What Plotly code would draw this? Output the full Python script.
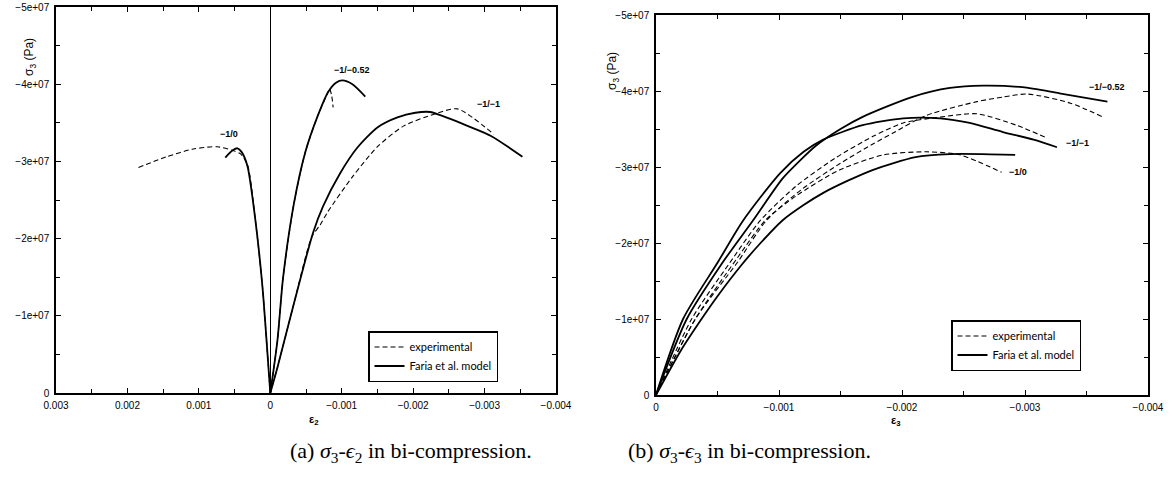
import plotly.graph_objects as go

# ---------------- data (strain, stress in 1e7 Pa compressive magnitude) ----------------
# Panel (a): sigma3 vs eps2
a_exp_10_e = [0, 0.00004, 0.00011, 0.00021, 0.00032, 0.00042, 0.00052, 0.00074, 0.00108, 0.00145, 0.00185]
a_exp_10_s = [0, 0.52, 1.38, 2.25, 2.96, 3.10, 3.14, 3.19, 3.16, 3.06, 2.92]
a_mod_10_e = [0, 0.00004, 0.00011, 0.00021, 0.00032, 0.00040, 0.00046, 0.00053, 0.00063]
a_mod_10_s = [0, 0.52, 1.38, 2.25, 2.94, 3.12, 3.17, 3.14, 3.05]

a_exp_052_e = [0, -0.0001, -0.00018, -0.00033, -0.00049, -0.00066, -0.00080, -0.00083, -0.00086, -0.00088]
a_exp_052_s = [0, 0.68, 1.50, 2.45, 3.12, 3.58, 3.88, 3.94, 3.85, 3.70]
a_mod_052_e = [0, -0.0001, -0.00018, -0.00033, -0.00049, -0.00066, -0.00081, -0.00092, -0.00101, -0.00115, -0.00133]
a_mod_052_s = [0, 0.68, 1.50, 2.45, 3.12, 3.58, 3.90, 4.02, 4.05, 4.00, 3.84]

a_exp_11_e = [0, -0.0001, -0.00032, -0.00058, -0.0007, -0.0008, -0.00115, -0.0015, -0.00187, -0.00229, -0.00262, -0.00313]
a_exp_11_s = [0, 0.33, 1.12, 2.02, 2.18, 2.34, 2.80, 3.19, 3.46, 3.61, 3.68, 3.35]
a_mod_11_e = [0, -0.0001, -0.00032, -0.0006, -0.00074, -0.00098, -0.00122, -0.0015, -0.00178, -0.00203, -0.00224, -0.00252, -0.00276, -0.00309, -0.00353]
a_mod_11_s = [0, 0.33, 1.12, 2.08, 2.42, 2.85, 3.18, 3.44, 3.57, 3.63, 3.64, 3.55, 3.46, 3.33, 3.06]

# Panel (b): sigma3 vs eps3
b_exp_10_e = [0, -0.00032, -0.00066, -0.00089, -0.00114, -0.00149, -0.00185, -0.0022, -0.00247, -0.00281]
b_exp_10_s = [0, 1.0, 1.80, 2.30, 2.62, 2.96, 3.16, 3.20, 3.16, 2.93]
b_mod_10_e = [0, -0.0002, -0.00037, -0.0005, -0.0007, -0.00085, -0.00103, -0.0012, -0.00136, -0.00156, -0.00176, -0.00211, -0.00239, -0.00265, -0.00292]
b_mod_10_s = [0, 0.58, 1.0, 1.30, 1.72, 2.0, 2.30, 2.50, 2.66, 2.82, 2.96, 3.13, 3.17, 3.17, 3.16]

b_exp_052_e = [0, -0.00032, -0.00066, -0.0009, -0.00118, -0.0015, -0.00176, -0.00193, -0.0022, -0.00261, -0.00282, -0.00302, -0.00337, -0.00363]
b_exp_052_s = [0, 1.0, 1.74, 2.30, 2.70, 3.05, 3.30, 3.45, 3.68, 3.86, 3.92, 3.96, 3.84, 3.66]
b_mod_052_e = [0, -0.00025, -0.00054, -0.00079, -0.00103, -0.00118, -0.0013, -0.0015, -0.00168, -0.00208, -0.00239, -0.00266, -0.00298, -0.00328, -0.00367]
b_mod_052_s = [0, 1.0, 1.74, 2.30, 2.85, 3.10, 3.28, 3.50, 3.66, 3.92, 4.04, 4.07, 4.05, 3.97, 3.86]

b_exp_11_e = [0, -0.00029, -0.0006, -0.00085, -0.00114, -0.00146, -0.00176, -0.00201, -0.00228, -0.00261, -0.00293, -0.00318]
b_exp_11_s = [0, 1.0, 1.74, 2.30, 2.75, 3.12, 3.40, 3.58, 3.65, 3.70, 3.55, 3.38]
b_mod_11_e = [0, -0.00022, -0.0005, -0.00071, -0.00101, -0.0012, -0.00136, -0.00168, -0.00201, -0.00231, -0.00255, -0.00282, -0.00307, -0.00326]
b_mod_11_s = [0, 1.0, 1.74, 2.30, 2.92, 3.20, 3.36, 3.55, 3.64, 3.64, 3.58, 3.46, 3.36, 3.26]

x_a_ticks = [0.003, 0.002, 0.001, 0, -0.001, -0.002, -0.003, -0.004]
x_a_labels = ["0.003", "0.002", "0.001", "0", "\u22120.001", "\u22120.002", "\u22120.003", "\u22120.004"]
x_b_ticks = [0, -0.001, -0.002, -0.003, -0.004]
x_b_labels = ["0", "\u22120.001", "\u22120.002", "\u22120.003", "\u22120.004"]
y_ticks = [0, -1e7, -2e7, -3e7, -4e7, -5e7]
y_labels = ["0", "\u22121e+07", "\u22122e+07", "\u22123e+07", "\u22124e+07", "\u22125e+07"]
x_a_minor = [0.0025, 0.0015, 0.0005, -0.0005, -0.0015, -0.0025, -0.0035]
x_b_minor = [-0.0005, -0.0015, -0.0025, -0.0035]
y_minor = [-0.5e7, -1.5e7, -2.5e7, -3.5e7, -4.5e7]

W, H = 1172, 489

def pa(v):
    return [-s * 1e7 for s in v]

fig = go.Figure()

DASH = "5px,3px"
series = [
    # (xaxis, yaxis, legend, eps, sig, dashed, show)
    ("x", "y", "legend", a_exp_10_e, a_exp_10_s, True, True),
    ("x", "y", "legend", a_mod_10_e, a_mod_10_s, False, True),
    ("x", "y", "legend", a_exp_052_e, a_exp_052_s, True, False),
    ("x", "y", "legend", a_mod_052_e, a_mod_052_s, False, False),
    ("x", "y", "legend", a_exp_11_e, a_exp_11_s, True, False),
    ("x", "y", "legend", a_mod_11_e, a_mod_11_s, False, False),
    ("x2", "y2", "legend2", b_exp_10_e, b_exp_10_s, True, True),
    ("x2", "y2", "legend2", b_mod_10_e, b_mod_10_s, False, True),
    ("x2", "y2", "legend2", b_exp_052_e, b_exp_052_s, True, False),
    ("x2", "y2", "legend2", b_mod_052_e, b_mod_052_s, False, False),
    ("x2", "y2", "legend2", b_exp_11_e, b_exp_11_s, True, False),
    ("x2", "y2", "legend2", b_mod_11_e, b_mod_11_s, False, False),
]
for xa, ya, lg, e, s, dashed, show in series:
    fig.add_trace(go.Scatter(
        x=e, y=pa(s), xaxis=xa, yaxis=ya, mode="lines",
        line=dict(color="black", width=1.1 if dashed else 1.8,
                  dash=DASH if dashed else "solid", shape="spline", smoothing=0.7),
        name="experimental" if dashed else "Faria et al. model",
        showlegend=show, legend=lg, hoverinfo="skip"))

tickfont = dict(family="Liberation Sans", size=10, color="black")
common_x = dict(showline=True, linecolor="black", linewidth=1.5, mirror="allticks",
                ticks="inside", ticklen=5, tickcolor="black", tickwidth=1.2,
                showgrid=False, tickmode="array", tickfont=tickfont, ticklabelstandoff=2,
                automargin=False)
common_y = dict(showline=True, linecolor="black", linewidth=1.5, mirror="allticks",
                ticks="inside", ticklen=5, tickcolor="black", tickwidth=1.2,
                showgrid=False, zeroline=False, tickmode="array", tickfont=tickfont,
                range=[0, -5e7], tickvals=y_ticks, ticktext=y_labels,
                minor=dict(tickvals=y_minor, ticks="inside", ticklen=4, tickcolor="black", tickwidth=1.2),
                ticklabelstandoff=3, automargin=False)

legend_common = dict(xanchor="left", yanchor="top",
                     bordercolor="black", borderwidth=1.5, bgcolor="white",
                     font=dict(family="Lato", size=11, color="black"),
                     tracegroupgap=0, itemwidth=30)

fig.update_layout(
    width=W, height=H, margin=dict(l=0, r=0, t=0, b=0, autoexpand=False),
    paper_bgcolor="white", plot_bgcolor="white",
    xaxis=dict(domain=[56 / W, 556 / W], range=[0.003, -0.004], anchor="y",
               tickvals=x_a_ticks, ticktext=x_a_labels,
               zeroline=True, zerolinecolor="black", zerolinewidth=1.3,
               minor=dict(tickvals=x_a_minor, ticks="inside", ticklen=4, tickcolor="black", tickwidth=1.2),
               **common_x),
    yaxis=dict(domain=[1 - 393 / H, 1 - 7 / H], anchor="x", **common_y),
    xaxis2=dict(domain=[656 / W, 1148 / W], range=[0, -0.004], anchor="y2",
                tickvals=x_b_ticks, ticktext=x_b_labels, zeroline=False,
                minor=dict(tickvals=x_b_minor, ticks="inside", ticklen=4, tickcolor="black", tickwidth=1.2),
                **common_x),
    yaxis2=dict(domain=[1 - 395 / H, 1 - 15 / H], anchor="x2", **common_y),
    legend=dict(x=368 / W, y=1 - 331 / H, **legend_common),
    legend2=dict(x=951 / W, y=1 - 320 / H, **legend_common),
)

lab = dict(family="Liberation Sans", size=9, color="black")
curve_labels = [
    ("x", "y", 0.000575, -3.35e7, "\u22121/0"),
    ("x", "y", -0.00115, -4.18e7, "\u22121/\u22120.52"),
    ("x", "y", -0.00306, -3.75e7, "\u22121/\u22121"),
    ("x2", "y2", -0.00367, -4.05e7, "\u22121/\u22120.52"),
    ("x2", "y2", -0.00343, -3.32e7, "\u22121/\u22121"),
    ("x2", "y2", -0.00294, -2.93e7, "\u22121/0"),
]
for xr, yr, xv, yv, t in curve_labels:
    fig.add_annotation(x=xv, y=yv, xref=xr, yref=yr, text="<b>" + t + "</b>",
                       showarrow=False, font=lab)

# axis titles
fig.add_annotation(x=20 / W, y=1 - 36 / H, xref="paper", yref="paper",
                   text="\u03c3<sub>3</sub> (Pa)", textangle=-90, showarrow=False,
                   font=dict(family="Liberation Sans", size=12, color="black"))
fig.add_annotation(x=613 / W, y=1 - 50 / H, xref="paper", yref="paper",
                   text="\u03c3<sub>3</sub> (Pa)", textangle=-90, showarrow=False,
                   font=dict(family="Liberation Sans", size=12, color="black"))
fig.add_annotation(x=307 / W, y=1 - 429 / H, xref="paper", yref="paper",
                   text="<b>\u03b5<sub>2</sub></b>", showarrow=False,
                   font=dict(family="Liberation Sans", size=11, color="black"))
fig.add_annotation(x=903 / W, y=1 - 430 / H, xref="paper", yref="paper",
                   text="<b>\u03b5<sub>3</sub></b>", showarrow=False,
                   font=dict(family="Liberation Sans", size=11, color="black"))

# captions
cap = dict(family="Liberation Serif", size=22, color="black")
fig.add_annotation(x=288 / W, y=1 - 468 / H, xref="paper", yref="paper",
                   text="(a) <i>\u03c3</i><sub>3</sub>-<i>\u03f5</i><sub>2</sub> in bi-compression.",
                   showarrow=False, font=cap)
fig.add_annotation(x=873 / W, y=1 - 468 / H, xref="paper", yref="paper",
                   text="(b) <i>\u03c3</i><sub>3</sub>-<i>\u03f5</i><sub>3</sub> in bi-compression.",
                   showarrow=False, font=cap)

fig.write_html("out.html", config={"displayModeBar": False},
               post_script="document.body.style.margin='0';document.body.style.padding='0';")
